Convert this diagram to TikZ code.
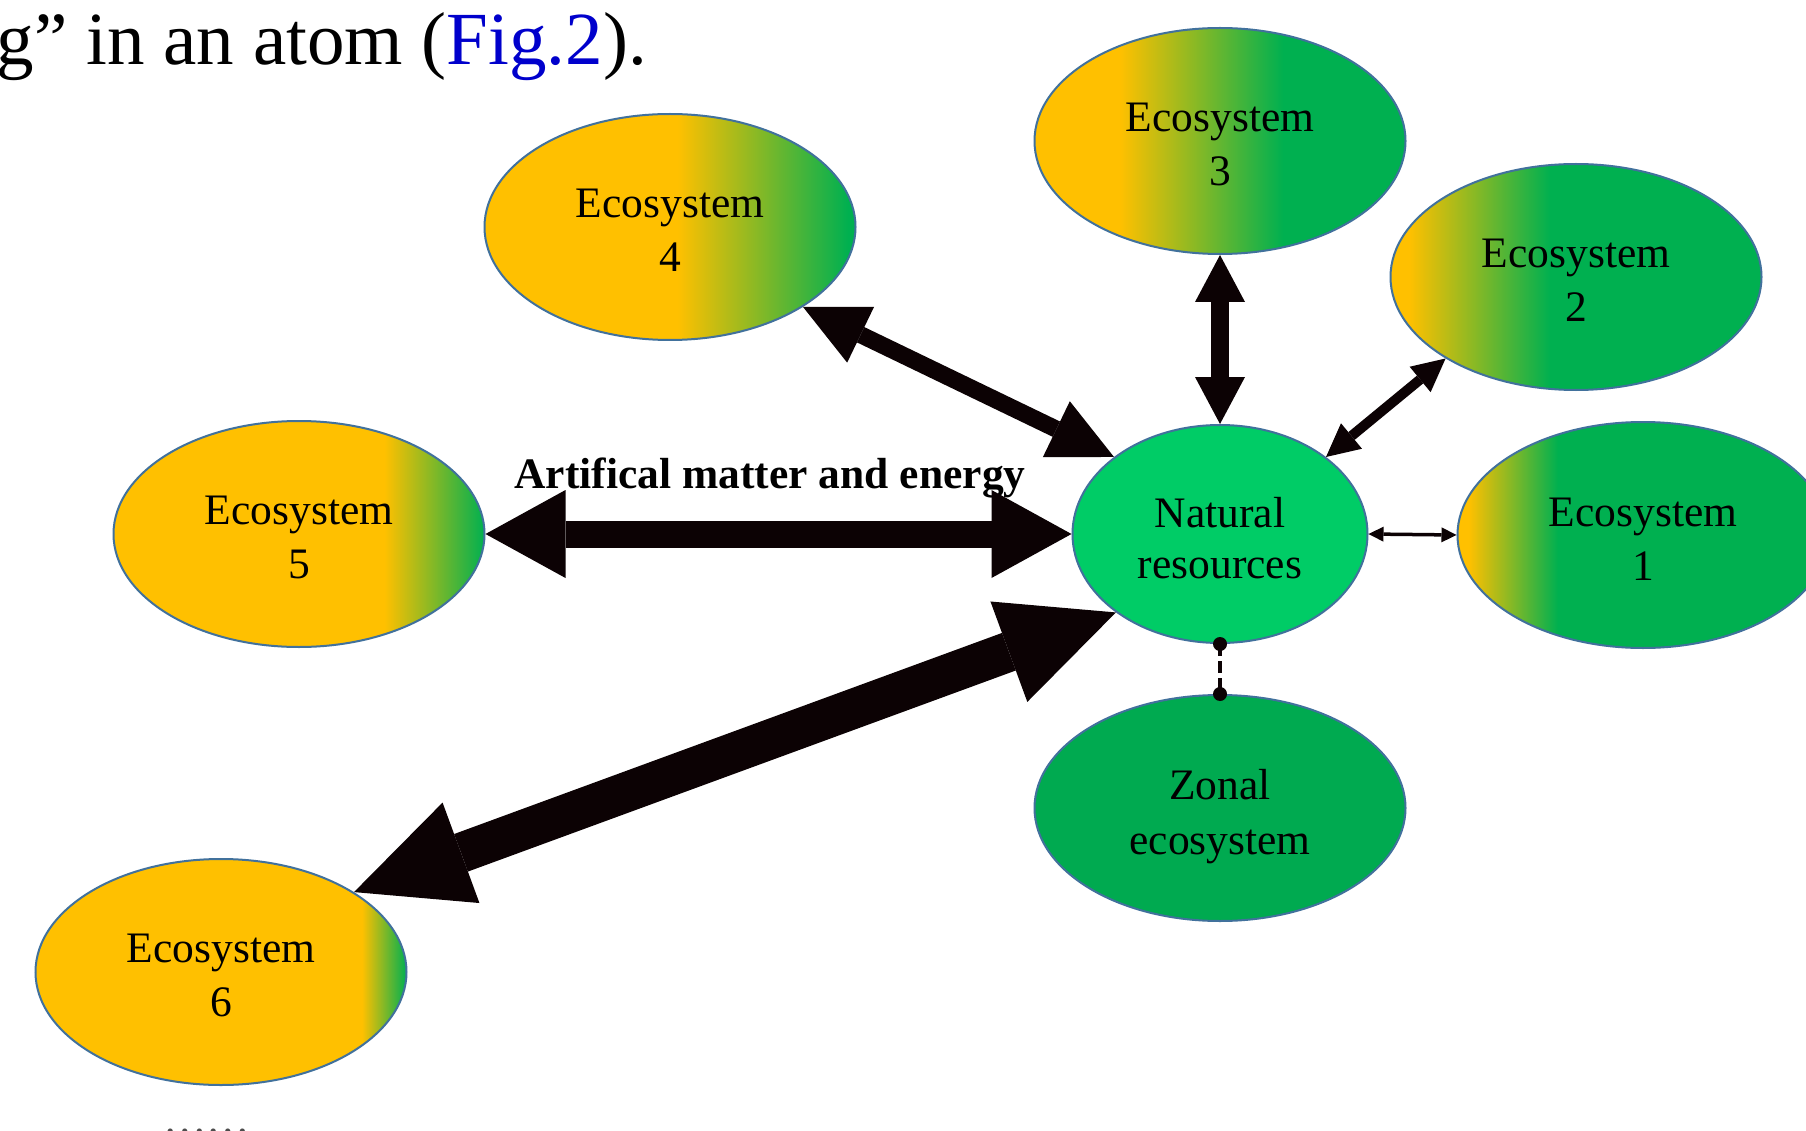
\documentclass[tikz,border=0pt]{standalone}
\usepackage{fontspec}
\setmainfont{Liberation Serif}
\usetikzlibrary{shapes.geometric,arrows.meta}
\definecolor{ecoyel}{HTML}{FFC000}
\definecolor{ecogrn}{HTML}{00B050}
\definecolor{nrgrn}{HTML}{00CC66}
\definecolor{zongrn}{HTML}{00AA50}
\definecolor{edgeblue}{HTML}{41719C}
\definecolor{arrowblk}{HTML}{0C0204}
\definecolor{figblue}{HTML}{0000CC}
% the path bounding box maps to 25bp..75bp of the shading
\pgfdeclarehorizontalshading{shEone}{100bp}{color(0bp)=(ecoyel); color(26.5bp)=(ecoyel); color(38.5bp)=(ecogrn); color(100bp)=(ecogrn)}
\pgfdeclarehorizontalshading{shEtwo}{100bp}{color(0bp)=(ecoyel); color(27.5bp)=(ecoyel); color(46.5bp)=(ecogrn); color(100bp)=(ecogrn)}
\pgfdeclarehorizontalshading{shEthree}{100bp}{color(0bp)=(ecoyel); color(36.5bp)=(ecoyel); color(58.5bp)=(ecogrn); color(100bp)=(ecogrn)}
\pgfdeclarehorizontalshading{shEfour}{100bp}{color(0bp)=(ecoyel); color(51bp)=(ecoyel); color(74bp)=(ecogrn); color(100bp)=(ecogrn)}
\pgfdeclarehorizontalshading{shEfive}{100bp}{color(0bp)=(ecoyel); color(61.5bp)=(ecoyel); color(75bp)=(ecogrn); color(100bp)=(ecogrn)}
\pgfdeclarehorizontalshading{shEsix}{100bp}{color(0bp)=(ecoyel); color(69bp)=(ecoyel); color(75bp)=(ecogrn); color(100bp)=(ecogrn)}
\newcommand{\toppad}[1]{\rule{0pt}{#1}}
\tikzset{
  ecobox/.style={ellipse, draw=edgeblue, line width=2pt, minimum width=371pt,
    minimum height=226pt, inner sep=0pt, align=center, text=black,
    font=\fontsize{43.5}{54}\selectfont},
  nrbox/.style={ecobox, minimum width=295pt, minimum height=218pt, fill=nrgrn,
    font=\fontsize{43.5}{51}\selectfont},
  dblarr/.style n args={3}{draw=arrowblk, line width=#1,
    arrows={{Triangle[length=#2,width=#3,line width=0pt]}-{Triangle[length=#2,width=#3,line width=0pt]}}},
}
\begin{document}
\begin{tikzpicture}[x=1pt,y=-1pt]
\useasboundingbox (0,0) rectangle (1806,1131);
\clip (0,0) rectangle (1806,1131);
\fill[white] (0,0) rectangle (1806,1131);

% intro text (cut at the left edge)
\node[anchor=base east, inner sep=0pt, font=\fontsize{75}{90}\selectfont] (intro) at (647,65)
  {g” in an atom (\textcolor{figblue}{Fig.2}).};

% ellipses
\node[ecobox, shading=shEfour]  (e4) at (670,227) {\toppad{36pt}Ecosystem\\4};
\node[ecobox, shading=shEthree] (e3) at (1220,141) {\toppad{36pt}Ecosystem\\3};
\node[ecobox, shading=shEtwo]   (e2) at (1576,277) {\toppad{36pt}Ecosystem\\2};
\node[ecobox, shading=shEone]   (e1) at (1643,535) {\toppad{36pt}Ecosystem\\1};
\node[ecobox, shading=shEfive]  (e5) at (299,534) {\toppad{36pt}Ecosystem\\5};
\node[ecobox, shading=shEsix]   (e6) at (221,972) {\toppad{36pt}Ecosystem\\6};
\node[nrbox] (nr) at (1220,534) {\toppad{38pt}Natural\\resources};
\node[ecobox, fill=zongrn, font=\fontsize{43.5}{55}\selectfont] (zon) at (1220,808) {\toppad{48pt}Zonal\\ecosystem};

% label
\node[anchor=base, inner sep=0pt, font=\bfseries\fontsize{43.5}{53}\selectfont] (lbl) at (770,488)
  {Artifical matter and energy};

% connectors
\draw[dblarr={27pt}{80pt}{88pt}] (e5.east) -- (nr.west);
\draw[dblarr={40pt}{114pt}{107pt}] (e6.31) -- (nr.217);
\draw[dblarr={17pt}{64pt}{62pt}] (e4.-31) -- (nr.144);
\draw[dblarr={18pt}{47pt}{50pt}] (e3.south) -- (nr.north);
\draw[dblarr={10pt}{33pt}{33pt}] (e2.212) -- (nr.36);
\draw[dblarr={3.5pt}{15pt}{15pt}] (nr.east) -- (e1.west);

% dashed link with dots
\draw[arrowblk, line width=4.5pt, dash pattern=on 12pt off 5pt] (nr.south) -- (zon.north);
\fill[arrowblk] (nr.south) circle (7pt);
\fill[arrowblk] (zon.north) circle (7pt);

% cut-off text at the bottom
\node[anchor=base west, inner sep=0pt, text=black!70, font=\fontsize{43.5}{53}\selectfont] (more) at (163,1133) {……};
\end{tikzpicture}
\end{document}
